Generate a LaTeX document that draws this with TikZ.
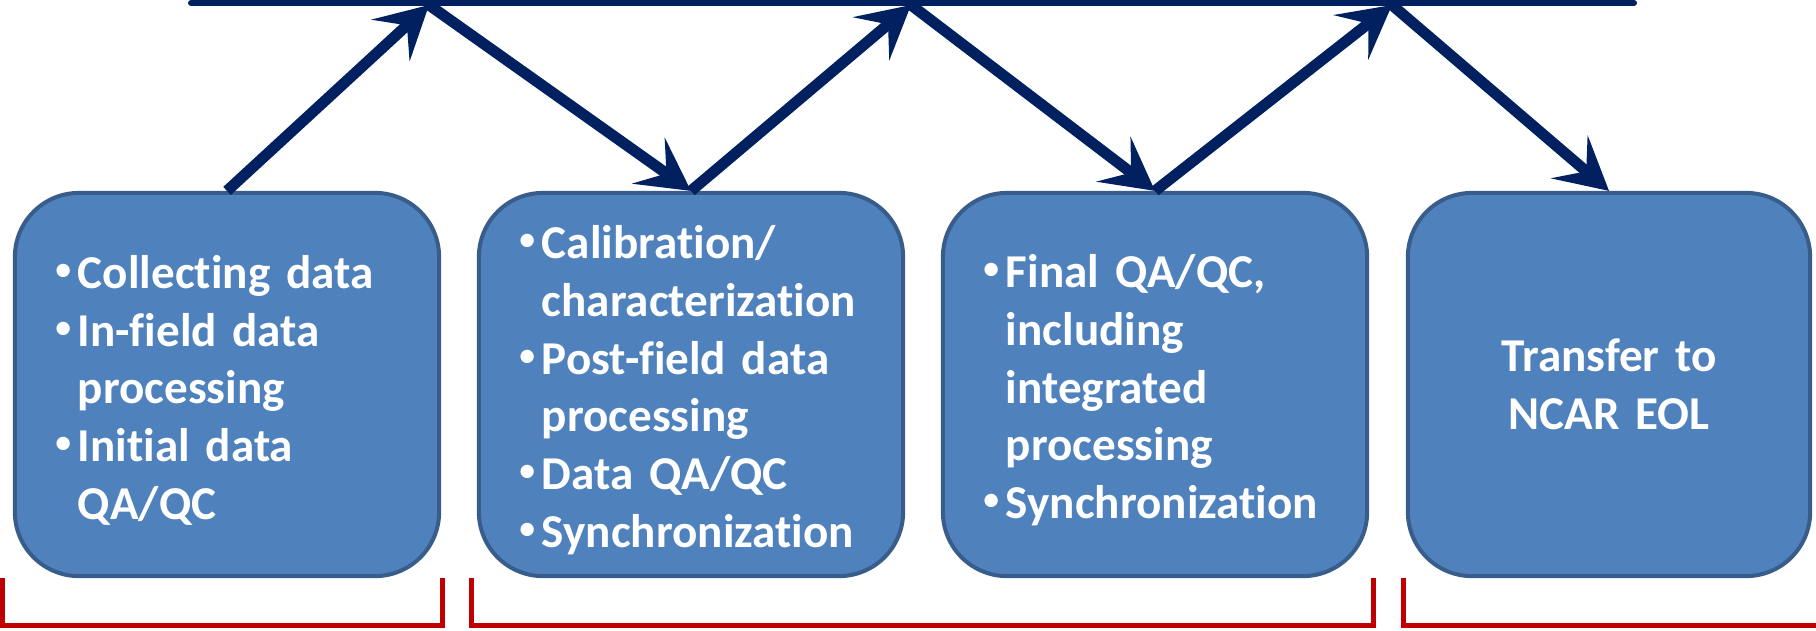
\documentclass[tikz,border=0pt]{standalone}
\usepackage{fontspec}
\setmainfont{Carlito}[Ligatures={NoCommon,NoContextual}]
\usepackage{graphicx}
\usepackage{tikz}
\usetikzlibrary{arrows.meta}

\definecolor{stepfill}{HTML}{4F81BD}
\definecolor{stepline}{HTML}{385D8A}
\definecolor{flowblue}{HTML}{002060}
\definecolor{groupred}{HTML}{C00000}

\newcommand{\bul}[1]{\par\noindent\hangindent=0.25cm\hangafter=1\makebox[0.25cm][l]{\hspace{0.01cm}\raisebox{0.15em}{\scalebox{0.8}{\mdseries •}}}#1\par}
\newcommand{\stepend}{\par\vspace{0.13cm}}

\begin{document}
\begin{tikzpicture}[x=0.01cm, y=-0.01cm,
	stepbox/.style={shape=rectangle, rounded corners=0.64cm, draw=stepline, line width=0.04cm, fill=stepfill, text=white, minimum width=4.24cm, minimum height=3.83cm, inner xsep=0.38cm, inner ysep=0pt, text width=3.48cm, font=\fontsize{13.4}{16.4}\selectfont\bfseries},
	listbox/.style={stepbox, execute at end node=\stepend},
	flow/.style={-{Stealth[length=0.52cm, width=0.56cm, inset=0.22cm]}, line width=0.11cm, color=flowblue},
	topline/.style={line width=0.06cm, color=flowblue, line cap=round},
	group/.style={line width=0.05cm, draw=groupred}]

	\useasboundingbox (0, 0) rectangle (1816, 630);

	\node[listbox] (collect) at (227, 384.5) {\bul{Collecting data}\bul{In-field data\newline processing}\bul{Initial data\newline QA/QC}};
	\node[listbox] (process) at (691, 384.5) {\bul{Calibration/\newline characterization}\bul{Post-field data\newline processing}\bul{Data QA/QC}\bul{Synchronization}};
	\node[listbox] (final) at (1155, 384.5) {\bul{Final QA/QC,\newline including\newline integrated\newline processing}\bul{Synchronization}};
	\node[stepbox, minimum width=4.02cm, text width=3.26cm, align=center] (transfer) at (1609, 384.5) {Transfer to\\NCAR EOL};

	\coordinate (lineL) at (191, 3);
	\coordinate (lineR) at (1634, 3);
	\coordinate (peak1) at (429, 5);
	\coordinate (peak2) at (911, 5);
	\coordinate (peak3) at (1392, 5);

	\draw[topline] (lineL) -- (lineR);

	\path[flow] (collect.north) edge (peak1);
	\path[flow] (peak1) edge (process.north);
	\path[flow] (process.north) edge (peak2);
	\path[flow] (peak2) edge (final.north);
	\path[flow] (final.north) edge (peak3);
	\path[flow] (peak3) edge (transfer.north);

	\draw[group] (2, 578) -- (2, 625) -- (442.5, 625) -- (442.5, 578);
	\draw[group] (471, 578) -- (471, 625) -- (1373.5, 625) -- (1373.5, 578);
	\draw[group] (1403, 578) -- (1403, 625) -- (1816, 625);

\end{tikzpicture}
\end{document}
